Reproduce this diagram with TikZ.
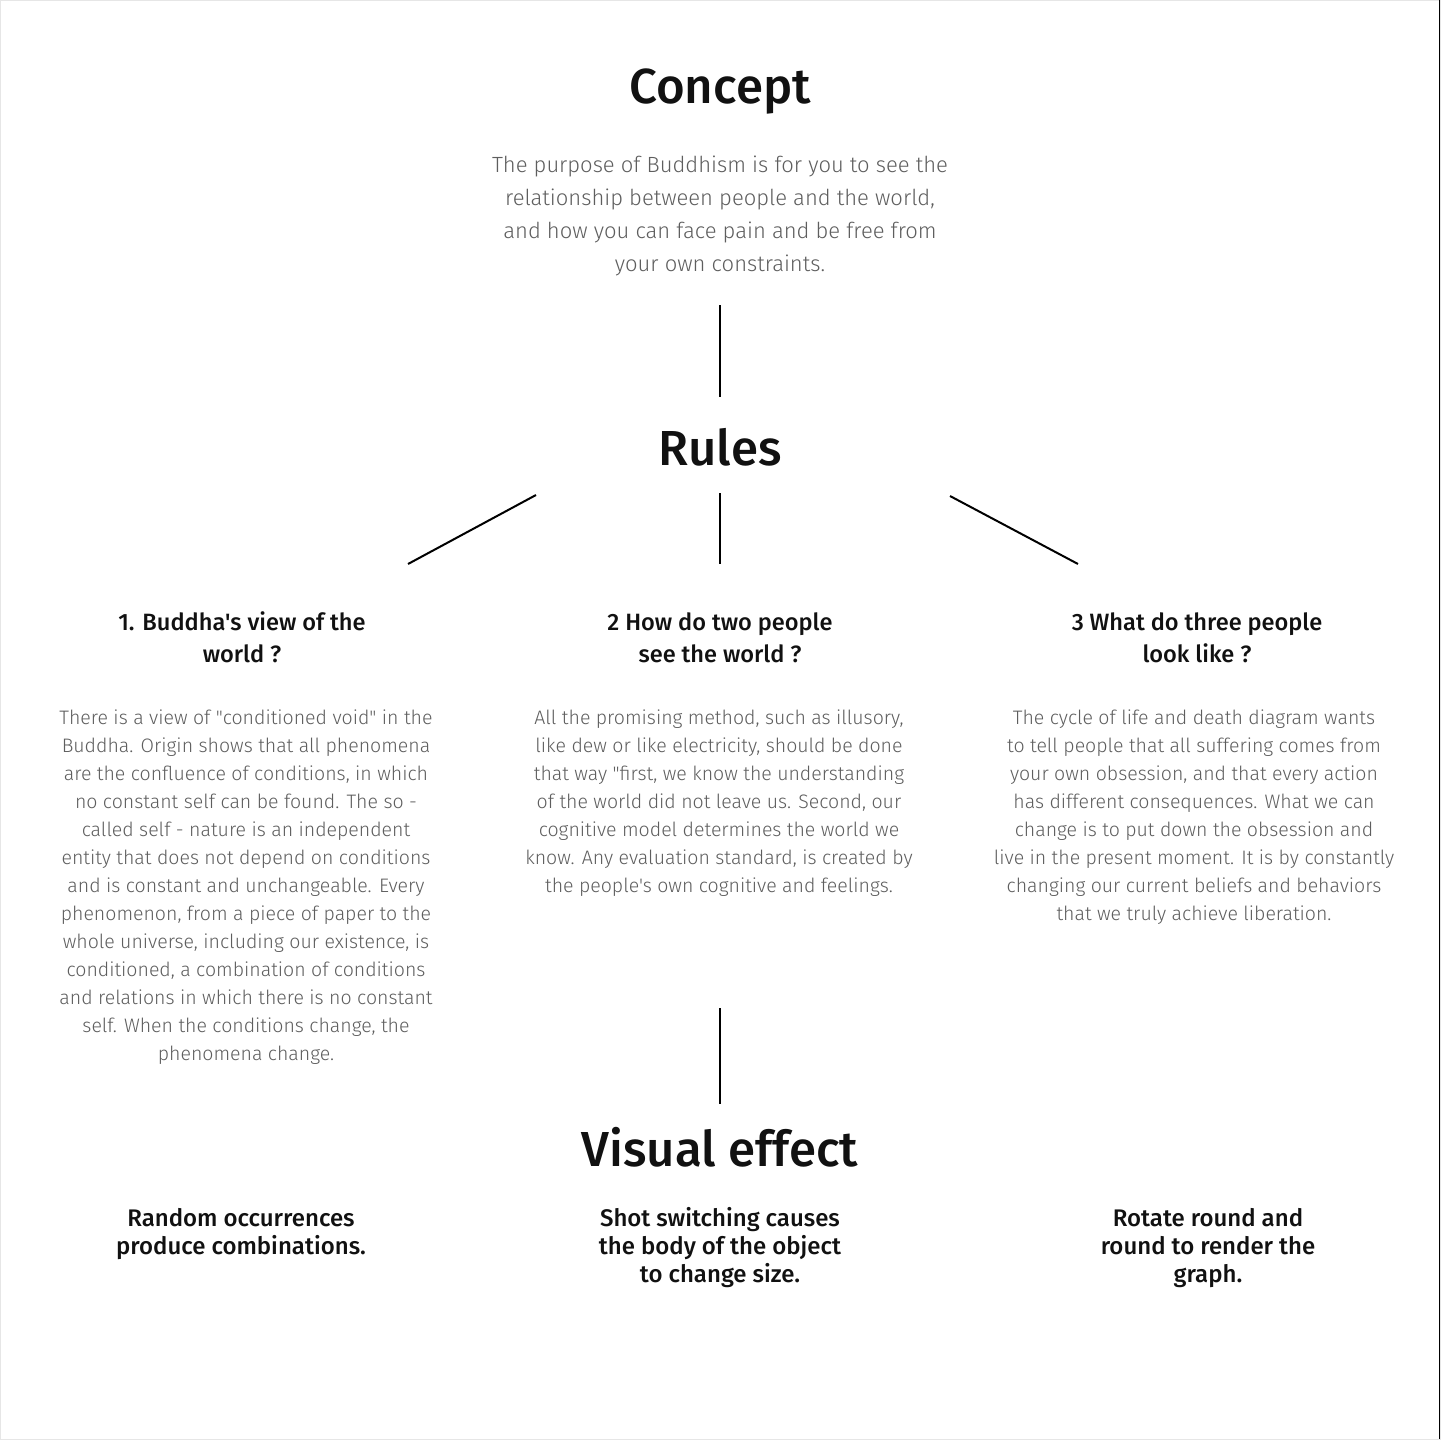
\documentclass[tikz,border=0pt]{standalone}
\usepackage{fontspec}
\setmainfont{Fira Sans}
\newfontfamily\lightfont{Fira Sans Light}
\newfontfamily\medfont{Fira Sans Medium}
\definecolor{bodygray}{HTML}{5E5E5E}
\definecolor{inkblack}{HTML}{111111}
\definecolor{framegray}{HTML}{E6E6E6}
\begin{document}
\begin{tikzpicture}[x=0.5pt,y=-0.5pt,
  title/.style={anchor=base,inner sep=0pt,text=inkblack,font=\medfont\fontsize{24.6}{28}\selectfont},
  intro/.style={anchor=base,inner sep=0pt,align=center,text=bodygray,font=\lightfont\fontsize{11}{16.5}\selectfont},
  colhead/.style={anchor=base,inner sep=0pt,align=center,text=inkblack,font=\medfont\fontsize{11.8}{16}\selectfont},
  colbody/.style={anchor=base,inner sep=0pt,align=center,text=bodygray,font=\lightfont\fontsize{9.75}{14}\selectfont},
  effect/.style={anchor=base,inner sep=0pt,align=center,text=inkblack,font=\medfont\fontsize{12}{14}\selectfont},
  link/.style={draw=black,line width=1pt}]
\useasboundingbox (0,0) rectangle (1441,1440);
\fill[white] (0,0) rectangle (1441,1440);
\draw[framegray,line width=0.5pt] (0.5,0.5) rectangle (1440.5,1439.5);
\draw[black,line width=0.5pt] (1439.5,0) -- (1439.5,1439);

% titles (anchor = baseline of the last line)
\node[title] (concept) at (720,103) {Concept};
\node[intro] (intro) at (720,271) {The purpose of Buddhism is for you to see the\\relationship between people and the world,\\and how you can face pain and be free from\\your own constraints.};
\node[title] (rules) at (720,465) {Rules};
\node[title] (visual) at (720,1166) {Visual effect};

% column headings
\node[colhead] (h1) at (242,662) {1. Buddha's view of the\\world ?};
\node[colhead] (h2) at (720,662) {2 How do two people\\see the world ?};
\node[colhead] (h3) at (1197,662) {3 What do three people\\look like ?};

% column bodies
\node[colbody] (b1) at (246,1060) {There is a view of "conditioned void" in the\\Buddha. Origin shows that all phenomena\\are the confluence of conditions, in which\\no constant self can be found. The so -\\called self - nature is an independent\\entity that does not depend on conditions\\and is constant and unchangeable. Every\\phenomenon, from a piece of paper to the\\whole universe, including our existence, is\\conditioned, a combination of conditions\\and relations in which there is no constant\\self. When the conditions change, the\\phenomena change.};
\node[colbody] (b2) at (719,892) {All the promising method, such as illusory,\\like dew or like electricity, should be done\\that way "first, we know the understanding\\of the world did not leave us. Second, our\\cognitive model determines the world we\\know. Any evaluation standard, is created by\\the people's own cognitive and feelings.};
\node[colbody] (b3) at (1194,920) {The cycle of life and death diagram wants\\to tell people that all suffering comes from\\your own obsession, and that every action\\has different consequences. What we can\\change is to put down the obsession and\\live in the present moment. It is by constantly\\changing our current beliefs and behaviors\\that we truly achieve liberation.};

% visual effects
\node[effect] (e1) at (241,1254) {Random occurrences\\produce combinations.};
\node[effect] (e2) at (720,1282) {Shot switching causes\\the body of the object\\to change size.};
\node[effect] (e3) at (1208,1282) {Rotate round and\\round to render the\\graph.};

% connector end points
\coordinate (c1a) at (720,305); \coordinate (c1b) at (720,397);
\coordinate (l1a) at (536,495); \coordinate (l1b) at (408,564);
\coordinate (l2a) at (720,493); \coordinate (l2b) at (720,564);
\coordinate (l3a) at (950,496); \coordinate (l3b) at (1078,564);
\coordinate (v1a) at (720,1008); \coordinate (v1b) at (720,1104);

\draw[link] (c1a) -- (c1b);
\draw[link] (l1a) -- (l1b);
\draw[link] (l2a) -- (l2b);
\draw[link] (l3a) -- (l3b);
\draw[link] (v1a) -- (v1b);
\end{tikzpicture}
\end{document}
